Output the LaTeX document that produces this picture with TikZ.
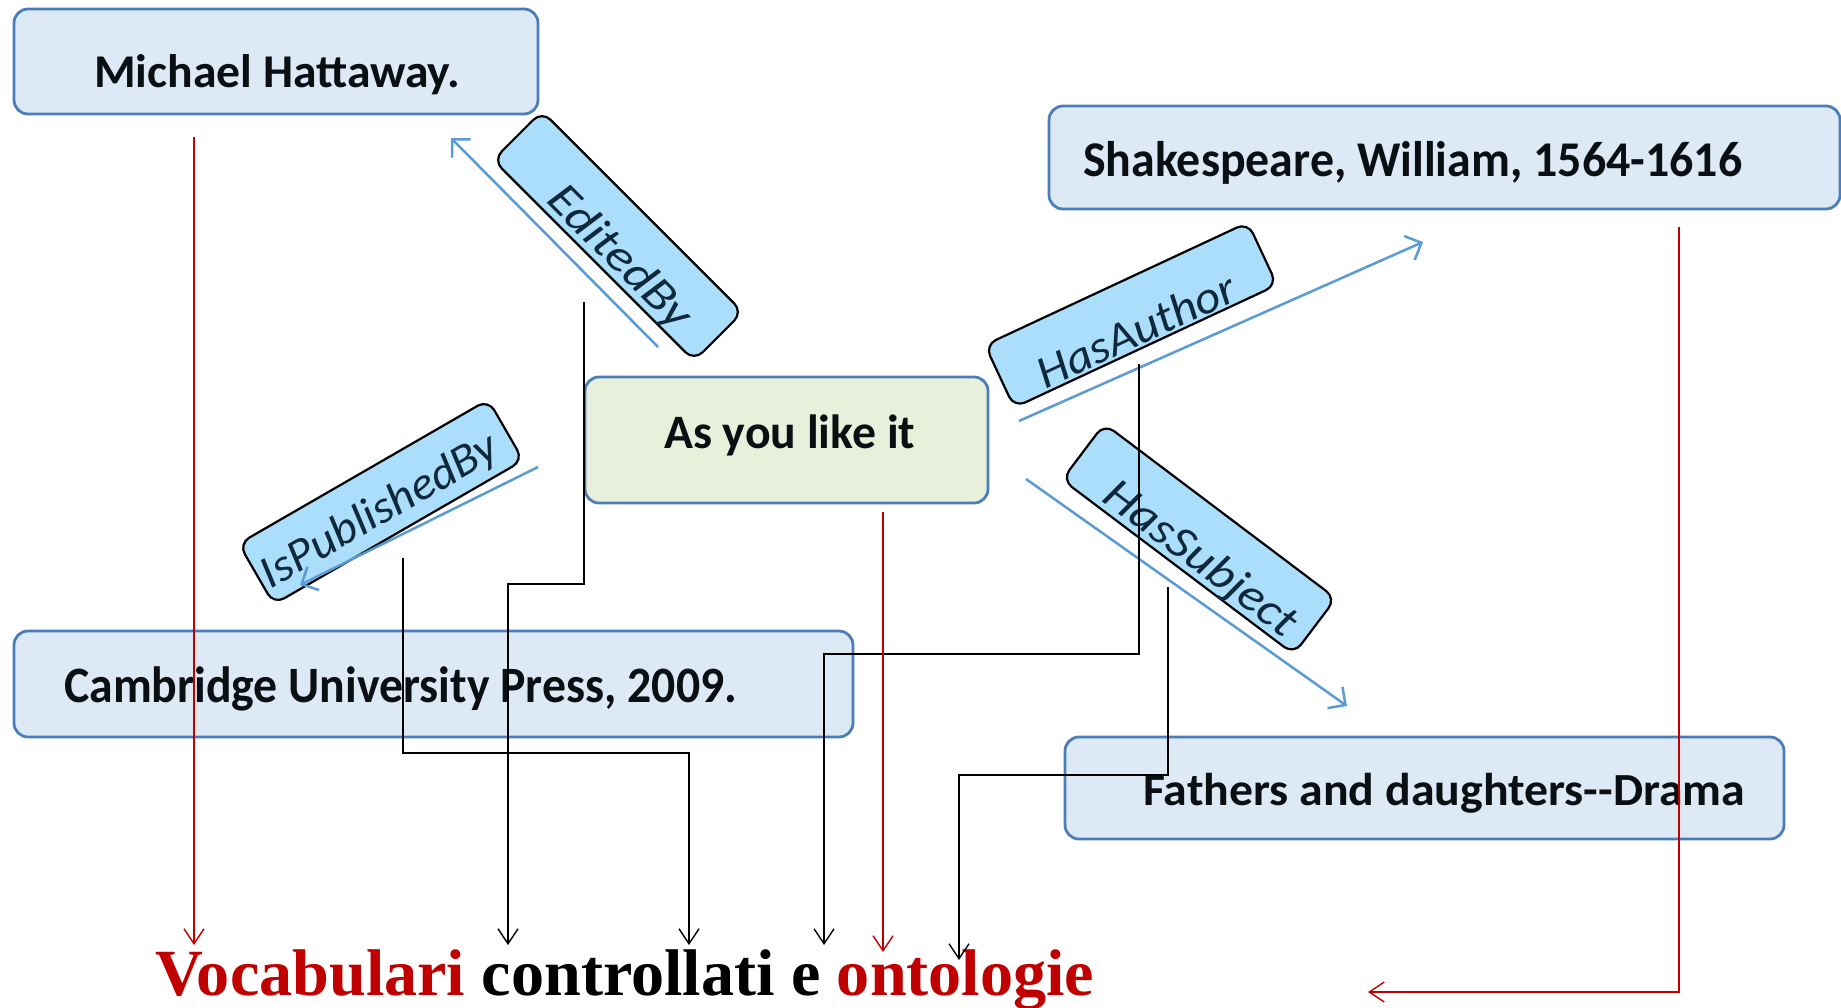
\documentclass[tikz,border=0pt]{standalone}
\usepackage{fontspec}
\setmainfont{Carlito}
\newfontfamily\serifbf{Liberation Serif}
\usetikzlibrary{arrows.meta}
\definecolor{boxblue}{RGB}{74,126,187}
\definecolor{boxfill}{RGB}{222,233,246}
\definecolor{greenfill}{RGB}{232,240,220}
\definecolor{labfill}{RGB}{170,222,250}
\definecolor{arrblue}{RGB}{91,155,213}
\definecolor{darkred}{RGB}{192,0,0}
\definecolor{labtext}{RGB}{15,40,60}
\definecolor{boxtextc}{RGB}{10,15,20}
\newcommand\fitw[2]{\resizebox{#1}{\height}{#2}}
\begin{document}
\begin{tikzpicture}[x=1pt,y=-1pt,
  entity/.style={draw=boxblue, line width=2.8pt, fill=boxfill, rounded corners=14pt, inner sep=0pt},
  relbox/.style={draw=black, line width=2.2pt, fill=labfill, rounded corners=12pt, inner sep=0pt},
  boxtext/.style={anchor=base west, inner sep=0pt, text=boxtextc},
  reltext/.style={inner sep=0pt, text=labtext},
  relarrow/.style={draw=arrblue, line width=2.5pt, -{Straight Barb[length=13pt,width=26pt,line width=2.5pt]}},
  blackarrow/.style={draw=black, line width=1.6pt, -{Straight Barb[length=15pt,width=20pt,line width=1.4pt]}},
  redarrow/.style={draw=darkred, line width=1.4pt, -{Straight Barb[length=15pt,width=20pt,line width=1.4pt]}}
]
\useasboundingbox (0,0) rectangle (1841,1007);
\fill[white] (0,0) rectangle (1841,1007);

% entity boxes
\node[entity, minimum width=524pt, minimum height=105pt] (mh) at (276,61.5) {};
\node[entity, minimum width=791pt, minimum height=103pt] (ws) at (1444.5,157.5) {};
\node[entity, fill=greenfill, minimum width=403pt, minimum height=126pt] (ay) at (786.5,440) {};
\node[entity, minimum width=839pt, minimum height=106pt] (cu) at (433.5,684) {};
\node[entity, minimum width=719pt, minimum height=102pt] (fd) at (1424.5,788) {};

% entity texts
\node[boxtext, font=\fontsize{47}{50}\selectfont\bfseries] (mht) at (94,87) {\fitw{366pt}{Michael Hattaway.}};
\node[boxtext, font=\fontsize{50}{54}\selectfont\bfseries] (wst) at (1083,176) {\fitw{659pt}{Shakespeare, William, 1564-1616}};
\node[boxtext, font=\fontsize{48}{52}\selectfont\bfseries] (ayt) at (664,448) {\fitw{251pt}{As you like it}};
\node[boxtext, font=\fontsize{51}{55}\selectfont\bfseries] (cut) at (64,702) {\fitw{673pt}{Cambridge University Press, 2009.}};
\node[boxtext, font=\fontsize{46}{50}\selectfont\bfseries] (fdt) at (1143,805) {\fitw{602pt}{Fathers and daughters-{}-Drama}};

% relation label boxes
\node[relbox, rotate=-45, minimum width=284pt, minimum height=69pt] (eb) at (618,236) {};
\node[relbox, rotate=25, minimum width=290pt, minimum height=69pt] (ha) at (1131,315) {};
\node[relbox, rotate=30, minimum width=288pt, minimum height=70pt] (ip) at (381,502) {};
\node[relbox, rotate=-37, minimum width=290pt, minimum height=70pt] (hs) at (1199,539) {};

\node[reltext, rotate=-45, font=\fontsize{46}{48}\selectfont\itshape] (ebt) at (619,258) {\fitw{184pt}{EditedBy}};
\node[reltext, rotate=25, font=\fontsize{46}{48}\selectfont\itshape] (hat) at (1136,330) {\fitw{214pt}{HasAuthor}};
\node[reltext, rotate=30, font=\fontsize{46}{48}\selectfont\itshape] (ipt) at (380,512) {\fitw{266pt}{IsPublishedBy}};
\node[reltext, rotate=-37, font=\fontsize{46}{48}\selectfont\itshape] (hst) at (1200,560) {\fitw{230pt}{HasSubject}};

% bottom title
\node[anchor=base west, inner sep=0pt, font=\serifbf\bfseries\fontsize{66}{70}\selectfont] (title) at (155,995)
  {\fitw{939pt}{\textcolor{darkred}{Vocabulari} controllati e \textcolor{darkred}{ontologie}}};

% coordinates for connector ends
\coordinate (eb1) at (658,347); \coordinate (eb2) at (451,138);
\coordinate (ha1) at (1019,421); \coordinate (ha2) at (1423,242);
\coordinate (ip1) at (538,467); \coordinate (ip2) at (300,585);
\coordinate (hs1) at (1026,479); \coordinate (hs2) at (1347,706);

\coordinate (k1s) at (584,302); \coordinate (k1e) at (508,945);
\coordinate (k2s) at (403,558); \coordinate (k2e) at (689,945);
\coordinate (k3s) at (1139,364); \coordinate (k3e) at (824,945);
\coordinate (k4s) at (1168,587); \coordinate (k4e) at (959,960);
\coordinate (r1s) at (194,137); \coordinate (r1e) at (194,945);
\coordinate (r2s) at (883,512); \coordinate (r2e) at (883,952);
\coordinate (r3s) at (1679,227); \coordinate (r3e) at (1368,992);

% blue relation arrows
\draw[relarrow] (eb1) -- (eb2);
\draw[relarrow] (ha1) -- (ha2);
\draw[relarrow] (ip1) -- (ip2);
\draw[relarrow] (hs1) -- (hs2);

% black connectors
\draw[blackarrow] (k1s) -- (584,584) -- (508,584) -- (k1e);
\draw[blackarrow] (k2s) -- (403,753) -- (689,753) -- (k2e);
\draw[blackarrow] (k3s) -- (1139,654) -- (824,654) -- (k3e);
\draw[blackarrow] (k4s) -- (1168,775) -- (959,775) -- (k4e);

% red connectors
\draw[redarrow] (r1s) -- (r1e);
\draw[redarrow] (r2s) -- (r2e);
\draw[redarrow] (r3s) -- (1679,992) -- (r3e);
\end{tikzpicture}
\end{document}
